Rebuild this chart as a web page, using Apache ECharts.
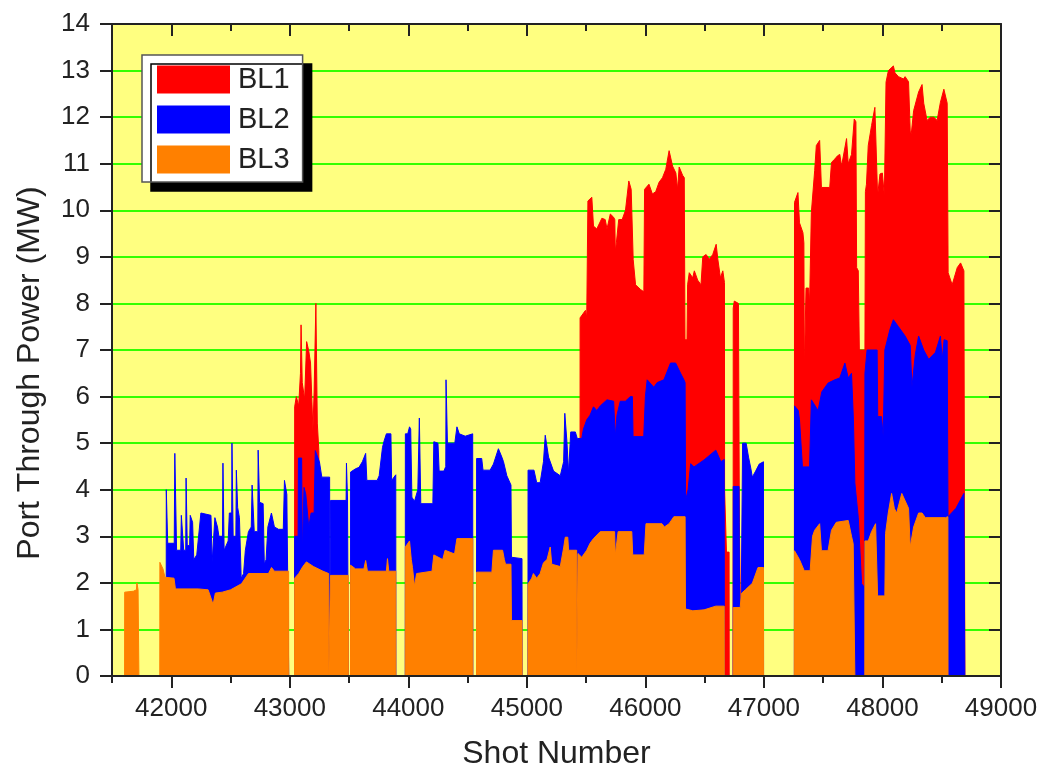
<!DOCTYPE html>
<html>
<head>
<meta charset="utf-8">
<script src="https://cdn.jsdelivr.net/npm/echarts/dist/echarts.min.js"></script>
<style>
html,body{margin:0;padding:0;background:#fff;}
#chart{width:1037px;height:771px;}
</style>
</head>
<body>
<div id="chart"></div>
<script>
// Values: top edge of each coloured band, in MW, per shot number.
// BL3 = orange band top, BL2 = blue band top (BL3+BL2), BL1 = red band top (total).
const seriesNames = ['BL1', 'BL2', 'BL3'];
const xTickLabels = [42000, 43000, 44000, 45000, 46000, 47000, 48000, 49000];
const yTickLabels = [0,1,2,3,4,5,6,7,8,9,10,11,12,13,14];

const bl3Top = [
 [41606,0],[41607,1.8],[41680,1.82],[41706,1.85],[41710,2.0],[41716,2.0],[41720,1.85],[41726,1.85],[41727,0],
 [41903,0],[41904,2.44],[41930,2.3],[41947,2.12],[42023,2.1],[42035,1.87],[42227,1.87],[42311,1.85],[42345,1.6],[42354,1.55],[42372,1.78],[42430,1.8],[42500,1.85],[42592,1.98],[42651,2.2],[42820,2.2],[42846,2.33],[42870,2.25],[42990,2.25],[42991,0],
 [43040,0],[43041,2.1],[43075,2.2],[43110,2.35],[43140,2.45],[43200,2.35],[43280,2.25],[43328,2.2],[43329,0],
 [43342,0],[43343,2.16],[43493,2.16],[43494,0],
 [43512,0],[43513,2.38],[43555,2.3],[43625,2.3],[43640,2.48],[43655,2.25],[43815,2.25],[43824,2.52],[43835,2.25],[43894,2.25],[43895,0],
 [43974,0],[43975,2.77],[44010,2.9],[44025,2.5],[44035,2.33],[44052,1.93],[44070,2.2],[44200,2.25],[44215,2.6],[44290,2.5],[44310,2.7],[44390,2.62],[44410,2.95],[44543,2.95],[44544,0],
 [44575,0],[44576,2.23],[44705,2.23],[44718,2.7],[44795,2.7],[44810,2.5],[44820,2.4],[44866,2.4],[44870,1.19],[44959,1.19],[44960,0],
 [45009,0],[45010,1.98],[45041,2.1],[45055,2.2],[45083,2.1],[45112,2.2],[45140,2.43],[45170,2.5],[45197,2.77],[45210,2.4],[45282,2.35],[45310,2.75],[45324,2.98],[45345,2.98],[45352,2.7],[45420,2.7],[45421,0],
 [45430,0],[45431,2.63],[45463,2.55],[45505,2.7],[45533,2.85],[45562,2.95],[45619,3.1],[45740,3.1],[45746,2.6],[45760,2.6],[45770,3.1],[45885,3.1],[45893,2.6],[45990,2.6],[46005,3.27],[46140,3.27],[46160,3.2],[46200,3.27],[46240,3.42],[46335,3.42],[46338,1.44],[46400,1.4],[46495,1.42],[46594,1.5],[46665,1.5],[46666,0],
 [46740,0],[46741,1.47],[46800,1.47],[46809,1.77],[46843,1.85],[46902,1.99],[46950,2.33],[46996,2.33],[46997,0],
 [47257,0],[47258,2.69],[47300,2.5],[47340,2.26],[47390,2.26],[47410,3.0],[47428,3.13],[47470,3.27],[47485,2.69],[47541,2.69],[47570,3.13],[47610,3.3],[47626,3.34],[47711,3.34],[47739,3.0],[47753,2.84],[47766,2.84],[47767,0],
 [47851,0],[47852,2.9],[47880,2.9],[47908,3.1],[47942,3.27],[47955,3.27],[47959,1.72],[48020,1.72],[48026,3.06],[48049,3.5],[48077,3.92],[48100,3.6],[48120,3.5],[48163,3.92],[48220,3.6],[48229,3.6],[48234,2.77],[48263,3.2],[48305,3.5],[48334,3.5],[48362,3.4],[48532,3.4],[48552,3.42],[48553,0]
];

const bl2Top = [
 [41957,0],[41958,4.0],[41964,4.0],[41970,2.85],[42025,2.85],[42030,4.78],[42038,4.78],[42045,2.7],[42080,2.7],[42085,3.45],[42100,3.45],[42105,2.7],[42122,2.7],[42125,4.25],[42131,4.25],[42135,2.8],[42155,2.8],[42160,3.45],[42180,3.3],[42190,2.5],[42215,2.6],[42250,3.5],[42335,3.45],[42345,2.45],[42358,2.45],[42368,3.4],[42390,3.2],[42402,3.0],[42432,3.0],[42436,4.57],[42442,4.57],[42446,2.7],[42480,2.9],[42490,3.5],[42510,3.5],[42512,5.0],[42518,5.0],[42522,3.0],[42545,3.0],[42549,4.42],[42555,4.42],[42560,3.62],[42575,3.4],[42590,2.1],[42610,2.2],[42625,2.7],[42651,3.1],[42675,3.2],[42682,4.1],[42690,4.1],[42700,3.1],[42730,3.1],[42733,4.85],[42739,4.85],[42745,3.73],[42775,3.7],[42785,2.4],[42800,2.5],[42815,3.2],[42845,3.5],[42870,3.2],[42905,3.15],[42945,3.15],[42955,4.2],[42965,4.2],[42975,3.9],[42990,3.9],[42991,0],
 [43040,0],[43041,3.0],[43070,3.0],[43073,4.68],[43100,4.68],[43105,2.6],[43115,2.6],[43120,4.05],[43135,3.9],[43150,3.9],[43160,3.2],[43180,3.5],[43205,3.5],[43215,4.84],[43250,4.6],[43270,4.27],[43336,4.27],[43337,0],
 [43342,0],[43343,3.77],[43475,3.77],[43478,4.57],[43484,4.57],[43487,3.8],[43493,3.8],[43494,0],
 [43512,0],[43513,4.38],[43555,4.45],[43584,4.48],[43612,4.6],[43640,4.78],[43650,4.2],[43737,4.2],[43754,4.3],[43782,4.91],[43796,5.05],[43815,5.2],[43853,5.2],[43859,4.2],[43894,4.32],[43895,0],
 [43974,0],[43975,5.2],[43995,5.2],[44010,5.35],[44020,5.3],[44030,3.84],[44052,3.75],[44080,4.0],[44090,4.0],[44093,5.54],[44100,5.54],[44105,3.7],[44207,3.7],[44215,5.03],[44250,5.0],[44260,4.4],[44300,4.4],[44316,4.5],[44318,6.36],[44324,6.36],[44330,5.0],[44392,5.0],[44410,5.35],[44430,5.2],[44480,5.15],[44543,5.2],[44544,0],
 [44575,0],[44576,4.67],[44619,4.67],[44630,4.42],[44690,4.42],[44718,4.55],[44760,4.88],[44789,4.7],[44803,4.6],[44831,4.3],[44866,4.1],[44870,2.55],[44959,2.52],[44960,0],
 [45009,0],[45010,4.42],[45060,4.42],[45083,4.15],[45112,4.15],[45140,4.6],[45155,5.17],[45165,5.17],[45183,4.7],[45225,4.4],[45282,4.3],[45310,4.6],[45320,5.64],[45328,5.64],[45338,5.03],[45352,4.36],[45370,5.24],[45409,5.24],[45425,5.1],
 [45434,5.07],[45463,5.1],[45477,5.3],[45505,5.5],[45533,5.6],[45562,5.78],[45590,5.7],[45619,5.8],[45676,5.93],[45732,5.9],[45742,5.9],[45746,5.14],[45756,5.14],[45760,5.6],[45788,5.9],[45831,5.9],[45873,6.0],[45890,6.0],[45896,5.14],[45986,5.14],[46000,6.0],[46015,6.36],[46071,6.2],[46099,6.3],[46156,6.36],[46212,6.72],[46255,6.72],[46297,6.5],[46325,6.36],[46335,6.3],[46339,3.77],[46360,4.0],[46382,4.56],[46410,4.49],[46495,4.64],[46594,4.85],[46637,4.6],[46665,4.65],[46666,0],
 [46740,0],[46741,4.07],[46790,4.07],[46795,1.5],[46809,1.77],[46820,5.0],[46850,5.0],[46870,4.7],[46890,4.45],[46902,4.27],[46930,4.4],[46960,4.55],[46996,4.6],[46997,0],
 [47257,0],[47258,5.8],[47290,5.7],[47300,5.5],[47325,4.49],[47385,4.49],[47400,5.93],[47457,5.7],[47488,6.1],[47541,6.29],[47598,6.36],[47640,6.4],[47683,6.72],[47711,6.4],[47739,6.5],[47755,5.5],[47767,4.15],[47796,3.4],[47824,1.98],[47850,1.9],[47852,6.5],[47870,7.0],[47955,7.0],[47960,5.57],[47992,5.57],[48006,5.14],[48020,7.0],[48063,7.44],[48092,7.65],[48135,7.5],[48191,7.3],[48234,7.1],[48249,6.21],[48277,6.9],[48305,7.3],[48348,7.0],[48390,6.8],[48447,6.95],[48489,7.3],[48504,6.8],[48520,7.22],[48546,7.2],[48553,3.42],[48620,3.6],[48687,3.92],[48694,3.92],[48695,0]
];

const bl1Top = [
 [43040,0],[43041,5.78],[43055,6.0],[43075,5.8],[43090,6.5],[43095,7.54],[43101,7.54],[43105,6.3],[43125,5.94],[43142,7.18],[43160,6.98],[43175,6.72],[43195,5.29],[43205,6.08],[43220,8.0],[43226,8.0],[43232,5.43],[43245,4.84],[43250,0],
 [45448,0],[45449,7.69],[45494,7.85],[45505,7.7],[45515,10.2],[45548,10.28],[45562,9.66],[45590,9.6],[45633,9.83],[45661,9.8],[45676,9.6],[45704,9.92],[45732,9.85],[45742,9.8],[45746,9.12],[45755,9.3],[45775,9.8],[45804,9.8],[45832,10.0],[45860,10.63],[45880,10.45],[45897,8.94],[45917,8.4],[45959,8.3],[45987,8.25],[45993,10.45],[46030,10.56],[46059,10.35],[46087,10.4],[46115,10.6],[46144,10.7],[46172,10.88],[46200,11.28],[46229,10.95],[46257,10.8],[46271,10.45],[46285,10.93],[46314,10.75],[46328,10.7],[46334,7.22],[46351,7.22],[46356,8.4],[46370,8.66],[46399,8.55],[46413,8.7],[46441,8.5],[46469,8.4],[46484,9.0],[46512,9.05],[46540,8.95],[46568,9.05],[46597,9.27],[46611,8.95],[46633,8.55],[46653,8.7],[46667,8.45],[46668,4.0],[46682,4.0],[46684,2.66],[46706,2.66],[46707,0],
 [46740,0],[46741,7.9],[46750,8.05],[46785,8.0],[46793,3.3],[46808,3.3],[46809,0],
 [47257,0],[47258,10.17],[47287,10.38],[47300,9.73],[47329,9.52],[47337,9.3],[47341,6.57],[47351,6.57],[47355,8.33],[47377,8.33],[47385,8.0],[47400,9.95],[47428,10.85],[47442,11.39],[47470,11.5],[47485,10.49],[47555,10.49],[47570,11.03],[47598,11.1],[47621,11.17],[47640,11.2],[47655,10.95],[47697,11.54],[47711,11.0],[47739,11.2],[47762,11.96],[47776,11.9],[47782,8.77],[47796,8.7],[47805,7.0],[47852,7.0],[47856,10.4],[47865,10.56],[47880,11.39],[47908,11.82],[47936,12.21],[47950,12.2],[47959,10.31],[47979,10.78],[47999,10.8],[48016,10.31],[48030,12.75],[48050,13.0],[48092,13.1],[48106,12.95],[48135,12.87],[48177,12.82],[48191,12.87],[48220,12.76],[48234,11.7],[48243,11.64],[48263,12.14],[48305,12.54],[48334,12.7],[48348,12.3],[48376,11.93],[48404,12.0],[48433,12.0],[48461,11.93],[48489,12.32],[48518,12.6],[48546,12.3],[48554,8.66],[48588,8.4],[48631,8.77],[48659,8.87],[48687,8.7],[48694,8.7],[48695,0]
];

const colors = ['#ff0000', '#0000ff', '#ff8000'];
const FONT = 'Liberation Sans, Arial, sans-serif';
const X_MIN = 41500, X_MAX = 49000;

const chart = echarts.init(document.getElementById('chart'), null, {renderer: 'canvas'});

function areaSeries(name, data, color, z) {
  return {
    name: name, type: 'line', data: data, xAxisIndex: 0, yAxisIndex: 0, z: z,
    symbol: 'none', showSymbol: false, smooth: false, sampling: null,
    color: color,
    lineStyle: {color: color, width: 1},
    areaStyle: {color: color, opacity: 1},
    itemStyle: {color: color},
    emphasis: {disabled: true},
    animation: false
  };
}

const axisLineStyle = {color: '#222', width: 2};

chart.setOption({
  animation: false,
  backgroundColor: '#ffffff',
  textStyle: {fontFamily: FONT},
  grid: {left: 112, right: 36, top: 24, bottom: 95, show: true, backgroundColor: '#ffff80', borderWidth: 0,
    containLabel: false, outerBoundsMode: 'none'},
  legend: {
    data: seriesNames, z: 20,
    orient: 'vertical', left: 142, top: 55,
    icon: 'rect', itemWidth: 73, itemHeight: 28, itemGap: 11,
    padding: [10, 13, 8, 15],
    backgroundColor: '#ffffff', borderColor: '#555', borderWidth: 1.5, borderRadius: 0,
    shadowColor: '#000', shadowBlur: 0, shadowOffsetX: 9, shadowOffsetY: 9,
    textStyle: {fontFamily: FONT, fontSize: 29, lineHeight: 28, color: '#222', padding: [0, 0, 0, 3]},
    selectedMode: false
  },
  xAxis: [
    {
      type: 'value', position: 'bottom', min: X_MIN, max: X_MAX, interval: 500, z: 10,
      axisLine: {show: true, onZero: false, lineStyle: axisLineStyle},
      axisTick: {show: true, inside: false, length: 12, lineStyle: {color: '#222', width: 2}, customValues: xTickLabels},
      axisLabel: {show: true, customValues: xTickLabels, fontFamily: FONT, fontSize: 26, color: '#222', margin: 20,
        formatter: v => (v % 1000 === 0 ? String(v) : '')},
      splitLine: {show: false},
      name: 'Shot Number', nameLocation: 'middle', nameGap: 62,
      nameTextStyle: {fontFamily: FONT, fontSize: 32, color: '#222'}
    },
    {
      type: 'value', position: 'bottom', min: X_MIN, max: X_MAX, interval: 500, z: 10,
      axisLine: {show: false, onZero: false},
      axisTick: {show: true, inside: false, length: 7, lineStyle: {color: '#222', width: 2}},
      axisLabel: {show: false}, splitLine: {show: false}
    },
    {
      type: 'value', position: 'top', min: X_MIN, max: X_MAX, interval: 500, z: 10,
      axisLine: {show: true, onZero: false, lineStyle: axisLineStyle},
      axisTick: {show: true, inside: true, length: 12, lineStyle: {color: '#222', width: 2}, customValues: xTickLabels},
      axisLabel: {show: false}, splitLine: {show: false}
    },
    {
      type: 'value', position: 'top', min: X_MIN, max: X_MAX, interval: 500, z: 10,
      axisLine: {show: false, onZero: false},
      axisTick: {show: true, inside: true, length: 7, lineStyle: {color: '#222', width: 2}},
      axisLabel: {show: false}, splitLine: {show: false}
    }
  ],
  yAxis: [
    {
      type: 'value', position: 'left', min: 0, max: 14, interval: 1,
      axisLine: {show: true, onZero: false, lineStyle: axisLineStyle},
      axisTick: {show: true, inside: false, length: 12, lineStyle: {color: '#222', width: 2}},
      axisLabel: {show: true, fontFamily: FONT, fontSize: 26, color: '#222', margin: 22,
        formatter: v => (yTickLabels.indexOf(v) >= 0 ? String(v) : '')},
      splitLine: {show: true, lineStyle: {color: '#33ff00', width: 2}},
      name: 'Port Through Power (MW)', nameLocation: 'middle', nameGap: 66,
      nameTextStyle: {fontFamily: FONT, fontSize: 32, color: '#222', padding: [0, 46, 0, 0]}
    },
    {
      type: 'value', position: 'right', min: 0, max: 14, interval: 1, z: 10,
      axisLine: {show: true, onZero: false, lineStyle: axisLineStyle},
      axisTick: {show: true, inside: true, length: 12, lineStyle: {color: '#222', width: 2}},
      axisLabel: {show: false}, splitLine: {show: false}
    }
  ],
  series: [
    areaSeries(seriesNames[0], bl1Top, colors[0], 2),
    areaSeries(seriesNames[1], bl2Top, colors[1], 3),
    areaSeries(seriesNames[2], bl3Top, colors[2], 4)
  ]
});
</script>
</body>
</html>
